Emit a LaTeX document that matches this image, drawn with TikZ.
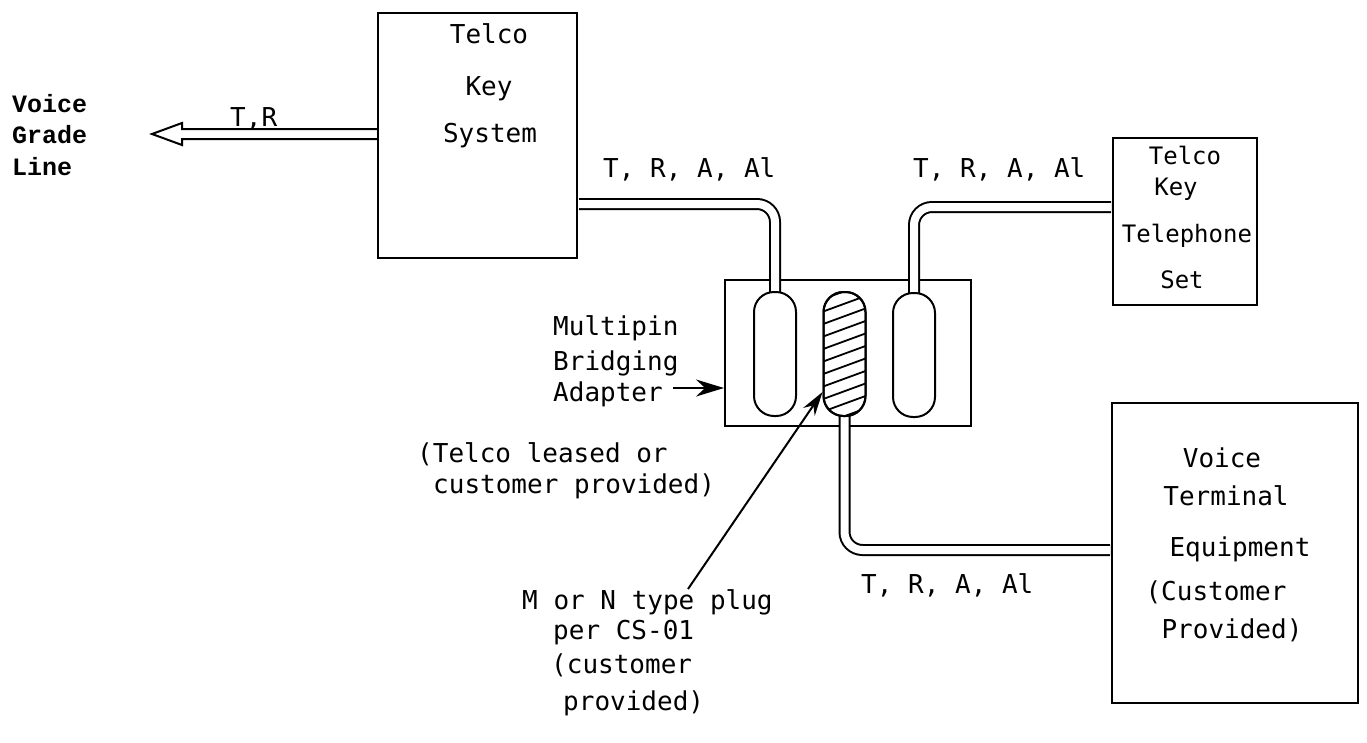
\documentclass[tikz,border=0pt]{standalone}
\usepackage{fontspec}
\newfontfamily\tw{DejaVu Sans Mono}
\newfontfamily\cb{Liberation Mono}
\usetikzlibrary{arrows.meta}
\begin{document}
\begin{tikzpicture}[x=1pt,y=-1pt,
  box/.style={draw,line width=2pt,inner sep=0pt},
  tl/.style={inner sep=0pt,anchor=base west,font=\tw\fontsize{26}{30}\selectfont},
  tc/.style={inner sep=0pt,anchor=base,font=\tw\fontsize{26}{30}\selectfont},
  tsm/.style={inner sep=0pt,anchor=base,font=\tw\fontsize{24}{30}\selectfont},
  vg/.style={inner sep=0pt,anchor=base west,font=\cb\bfseries\fontsize{25}{30}\selectfont},
  pipeout/.style={line width=12pt,black,rounded corners=18pt},
  pipein/.style={line width=8pt,white,rounded corners=18pt},
  capsule/.style={draw,line width=2pt,rounded corners=20pt,minimum width=42pt,minimum height=124pt,inner sep=0pt},
  lead/.style={line width=2pt},
]
\useasboundingbox (0,0) rectangle (1367,742);
\fill[white] (0,0) rectangle (1367,742);

% boxes
\node[box,minimum width=199pt,minimum height=245pt] (ks) at (477.5,135.5) {};
\node[box,minimum width=144pt,minimum height=167pt] (tel) at (1185,221.5) {};
\node[box,minimum width=246pt,minimum height=300pt] (vt) at (1235,553) {};
\node[box,minimum width=246pt,minimum height=146pt] (adp) at (848,353) {};

% capsule positions
\coordinate (cLc) at (775,354);
\coordinate (cMc) at (844.5,354);
\coordinate (cRc) at (914,355);

% pipes
\draw[pipeout] ([xshift=1pt]ks.east |- 0,204) -- (775,204) -- (cLc);
\draw[pipein]  ([xshift=1pt]ks.east |- 0,204) -- (775,204) -- (cLc);
\draw[pipeout] ([xshift=-1pt]tel.west |- 0,207) -- (914,207) -- (cRc);
\draw[pipein]  ([xshift=-1pt]tel.west |- 0,207) -- (914,207) -- (cRc);
\draw[pipeout] (cMc) -- (844.5,550) -- ([xshift=-1pt]vt.west |- 0,550);
\draw[pipein]  (cMc) -- (844.5,550) -- ([xshift=-1pt]vt.west |- 0,550);

% capsules
\node[capsule,fill=white] (cL) at (cLc) {};
\node[capsule,fill=white] (cR) at (cRc) {};
\node[capsule,fill=white] (cM) at (cMc) {};
\begin{scope}
  \clip[rounded corners=20pt] (823.5,292) rectangle (865.5,416);
  \foreach \k in {0,...,11} {
    \draw[line width=1.8pt] (815,302+12.5*\k) -- (875,280+12.5*\k);
  }
\end{scope}
\node[capsule] (cMo) at (cMc) {};

% voice grade line arrow
\coordinate (vgtip) at (152,134);
\draw[line width=2pt,line join=miter] (ks.west |- 0,129) -- (182,129) -- (182,123) -- (vgtip) -- (182,145) -- (182,139) -- (ks.west |- 0,139);

% texts
\node[vg] (vg1) at (12,112) {Voice};
\node[vg] (vg2) at (12,143.5) {Grade};
\node[vg] (vg3) at (12,175) {Line};
\node[tl] (tr) at (230,126) {T,R};

\node[tc] (ks1) at (489,43) {Telco};
\node[tc] (ks2) at (489,95) {Key};
\node[tc] (ks3) at (490,142) {System};

\node[tl] (lab1) at (603,177) {T, R, A, Al};
\node[tl] (lab2) at (913,177) {T, R, A, Al};
\node[tl] (lab3) at (861,593) {T, R, A, Al};

\node[tsm] (tel1) at (1185,164) {Telco};
\node[tsm] (tel2) at (1176,195) {Key};
\node[tsm] (tel3) at (1187,242) {Telephone};
\node[tsm] (tel4) at (1182,288) {Set};

\node[tc] (vt1) at (1222,467) {Voice};
\node[tc] (vt2) at (1226,505) {Terminal};
\node[tc] (vt3) at (1240,556) {Equipment};
\node[tc] (vt4) at (1216,600) {(Customer};
\node[tc] (vt5) at (1232,638) {Provided)};

\node[tl] (mb1) at (553,335) {Multipin};
\node[tl] (mb2) at (553,370) {Bridging};
\node[tl] (mb3) at (553,401) {Adapter};

\node[tl] (tl1) at (417,462) {(Telco leased or};
\node[tl] (tl2) at (433,493) {customer provided)};

\node[tl] (mn1) at (522,609) {M or N type plug};
\node[tl] (mn2) at (553,639) {per CS-01};
\node[tl] (mn3) at (551,673) {(customer};
\node[tl] (mn4) at (563,710) {provided)};

% leaders
\coordinate (adstart) at (673,388);
\draw[lead,-{Stealth[length=28pt,width=17pt]}] (adstart) -- (adp.west |- 0,388);
\coordinate (mnend) at (688,589);
\draw[lead,-{Stealth[length=24pt,width=14pt]}] (mnend) -- (cM.west |- 0,392);
\end{tikzpicture}
\end{document}
